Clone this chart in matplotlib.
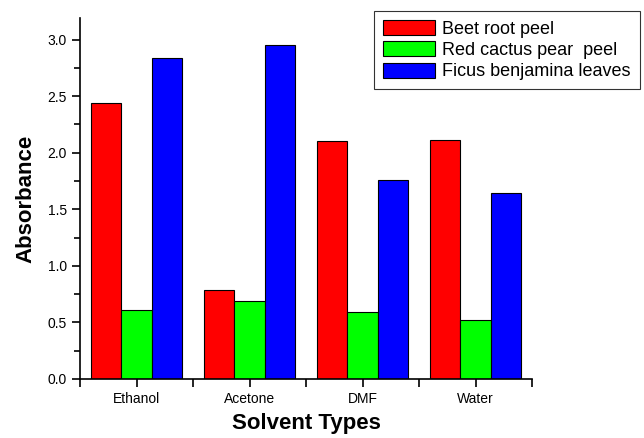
import matplotlib.pyplot as plt
import numpy as np

plt.rcParams['font.family'] = ['Liberation Sans', 'DejaVu Sans']

solvents = ["Ethanol", "Acetone", "DMF", "Water"]
series_names = ["Beet root peel", "Red cactus pear  peel", "Ficus benjamina leaves"]
beet_root = [2.44, 0.79, 2.10, 2.11]
cactus_pear = [0.61, 0.69, 0.59, 0.52]
ficus = [2.84, 2.95, 1.76, 1.64]
colors = ["#ff0000", "#00ff00", "#0000ff"]

fig = plt.figure(figsize=(6.44, 4.38), dpi=100)
ax = fig.add_axes([80 / 644, 59 / 438, 452 / 644, 361 / 438])

x = np.arange(len(solvents))
width = 0.27
for i, (vals, name) in enumerate(zip([beet_root, cactus_pear, ficus], series_names)):
    ax.bar(x + (i - 1) * width, vals, width, color=colors[i], edgecolor="black",
           linewidth=0.8, label=name)

ax.set_xlim(-0.5, len(solvents) - 0.5)
ax.set_ylim(0, 3.19)
ax.set_xticks(x)
ax.set_xticklabels(solvents)
ax.set_xticks(np.arange(len(solvents) + 1) - 0.5, minor=True)
ax.set_yticks(np.arange(0, 3.01, 0.5))
ax.set_yticks(np.arange(0.25, 3.2, 0.5), minor=True)
ax.yaxis.set_major_formatter(plt.FormatStrFormatter('%.1f'))

ax.spines['top'].set_visible(False)
ax.spines['right'].set_visible(False)
ax.spines['left'].set_linewidth(1.2)
ax.spines['bottom'].set_linewidth(1.2)
ax.tick_params(axis='both', which='major', direction='out', length=6, width=1.2, labelsize=10)
ax.tick_params(axis='both', which='minor', direction='out', length=4, width=1.2)
ax.tick_params(axis='x', which='minor', length=6)

ax.set_xlabel("Solvent Types", fontsize=16, fontweight='bold', labelpad=5)
ax.set_ylabel("Absorbance", fontsize=16, fontweight='bold', labelpad=8)

leg = fig.legend(loc='upper right', bbox_to_anchor=(640 / 644, 1 - 11 / 438),
                 fontsize=13, frameon=True, fancybox=False, edgecolor='black',
                 handlelength=2.9, handleheight=0.9, handletextpad=0.4,
                 labelspacing=0.2, borderpad=0.5, borderaxespad=0)
leg.get_frame().set_linewidth(0.8)

fig.savefig("out.png", dpi=100)
